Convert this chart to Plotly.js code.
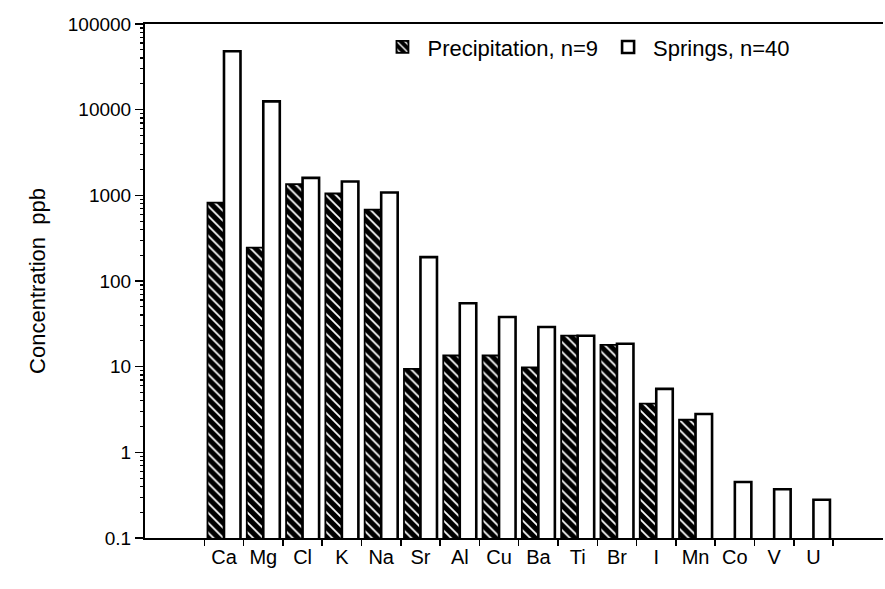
<!DOCTYPE html>
<html>
<head>
<meta charset="utf-8">
<script src="https://cdn.plot.ly/plotly-3.0.1.min.js"></script>
<style>
  html, body { margin: 0; padding: 0; background: #fff; }
  #chart { width: 885px; height: 589px; }
</style>
</head>
<body>
<div id="chart"></div>
<script>
const elements = ["Ca", "Mg", "Cl", "K", "Na", "Sr", "Al", "Cu", "Ba", "Ti", "Br", "I", "Mn", "Co", "V", "U"];
const precipitation = [820, 245, 1350, 1050, 680, 9.4, 13.5, 13.5, 9.8, 23, 18, 3.7, 2.4, null, null, null];
const springs = [48000, 12500, 1600, 1450, 1080, 190, 55, 38, 29, 23, 18.5, 5.5, 2.8, 0.45, 0.37, 0.28];
const yTickVals = [0.1, 1, 10, 100, 1000, 10000, 100000];
const yTickText = ["0.1", "1", "10", "100", "1000", "10000", "100000"];

// minor log ticks (2..9 within each decade) – axis decoration only
const minorTickVals = [];
for (let d = 0; d < yTickVals.length - 1; d++) {
  for (let m = 2; m <= 9; m++) minorTickVals.push(yTickVals[d] * m);
}

const FONT = "Liberation Sans, Arial, sans-serif";

const traces = [
  {
    type: "bar",
    name: "Precipitation, n=9",
    x: elements,
    y: precipitation,
    marker: {
      color: "#000",
      line: { color: "#000", width: 1.8 },
      pattern: { shape: "\\", fgcolor: "#fff", bgcolor: "#000", size: 7, solidity: 0.25, fillmode: "replace" }
    },
    hoverinfo: "x+y"
  },
  {
    type: "bar",
    name: "Springs, n=40",
    x: elements,
    y: springs,
    marker: { color: "#fff", line: { color: "#000", width: 2.6 } },
    hoverinfo: "x+y"
  },
  {
    // invisible helper so the minor-tick axis (y2) is drawn
    type: "scatter",
    mode: "markers",
    x: elements,
    y: springs,
    yaxis: "y2",
    marker: { opacity: 0, size: 1 },
    showlegend: false,
    hoverinfo: "skip"
  }
];

const layout = {
  width: 885,
  height: 589,
  paper_bgcolor: "#fff",
  plot_bgcolor: "#fff",
  font: { family: FONT, color: "#000", size: 18 },
  margin: { l: 145, r: 2, t: 24, b: 51 },
  barmode: "group",
  bargap: 0.16,
  bargroupgap: 0,
  showlegend: true,
  legend: {
    orientation: "h",
    x: 0.315, xanchor: "left",
    y: 0.955, yanchor: "middle",
    bgcolor: "rgba(0,0,0,0)",
    font: { family: FONT, size: 22, color: "#000" },
    itemwidth: 40,
    traceorder: "normal"
  },
  xaxis: {
    type: "category",
    range: [-2.01, 16.77],
    showline: true,
    linecolor: "#000",
    linewidth: 2,
    mirror: true,
    ticks: "outside",
    tickson: "boundaries",
    ticklen: 6,
    tickwidth: 1.5,
    tickcolor: "#000",
    showgrid: false,
    zeroline: false,
    tickfont: { family: FONT, size: 20, color: "#000" }
  },
  yaxis: {
    type: "log",
    range: [-1, 5],
    showline: true,
    linecolor: "#000",
    linewidth: 2,
    ticks: "outside",
    ticklen: 8,
    tickwidth: 1.5,
    tickcolor: "#000",
    tickmode: "array",
    tickvals: yTickVals,
    ticktext: yTickText,
    showgrid: false,
    zeroline: false,
    tickfont: { family: FONT, size: 19, color: "#000" },
    title: { text: "Concentration  ppb", font: { family: FONT, size: 22, color: "#000" }, standoff: 16 }
  },
  yaxis2: {
    type: "log",
    range: [-1, 5],
    overlaying: "y",
    side: "left",
    anchor: "x",
    showline: false,
    ticks: "outside",
    ticklen: 4,
    tickwidth: 1.2,
    tickcolor: "#000",
    tickmode: "array",
    tickvals: minorTickVals,
    showticklabels: false,
    showgrid: false,
    zeroline: false
  }
};

Plotly.newPlot("chart", traces, layout, { displayModeBar: false, staticPlot: true });
</script>
</body>
</html>
